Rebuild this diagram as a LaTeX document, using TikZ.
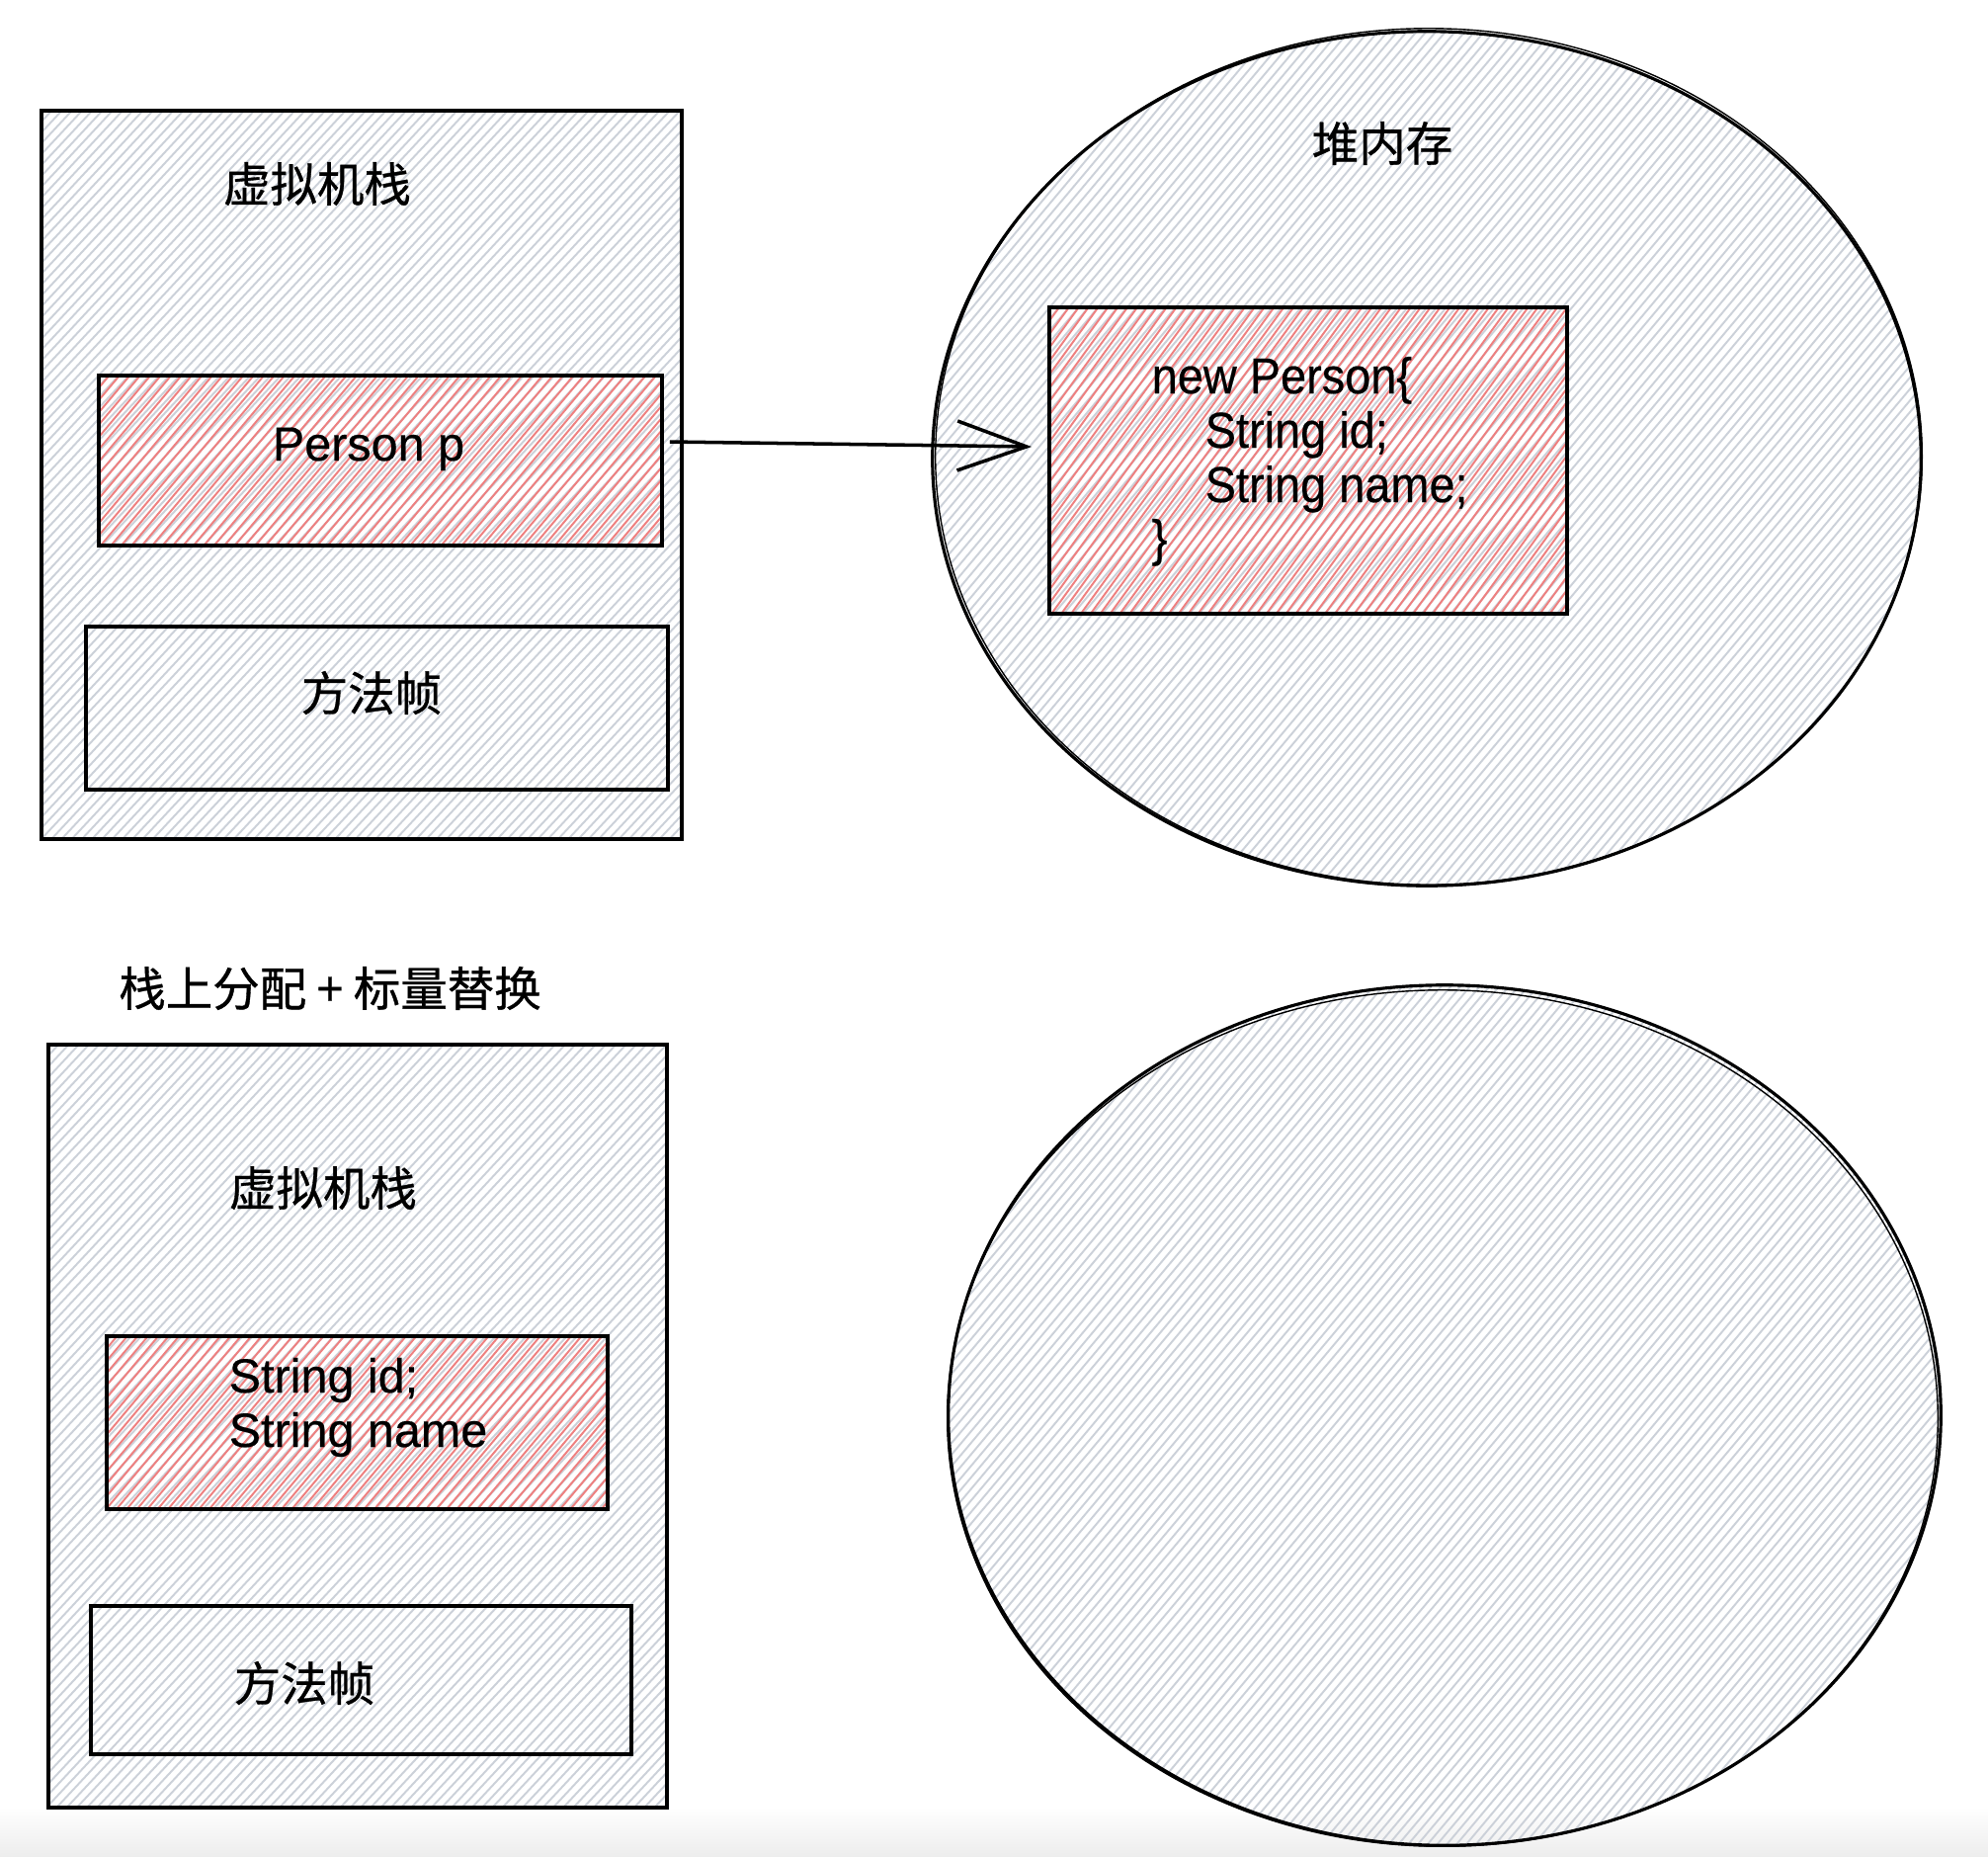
\documentclass[tikz,border=0pt]{standalone}
\usepackage{fontspec}
\setmainfont{Liberation Sans}[RawFeature={embolden=0.4}]
\newfontfamily\cjk{Noto Sans CJK SC}[RawFeature={embolden=0.7}]
\usetikzlibrary{arrows.meta,calc,shapes.geometric}
\definecolor{hgray}{RGB}{204,209,217}
\definecolor{hred}{RGB}{238,128,128}
% #1 x0, #2 y0, #3 x1, #4 y1, #5 gap, #6 style, #7 angle
\newcommand\hatchlines[7]{%
  \pgfmathsetmacro\hcA{(#1)*sin(#7)+(#2)*cos(#7)}%
  \pgfmathsetmacro\hcB{(#3)*sin(#7)+(#4)*cos(#7)}%
  \pgfmathsetmacro\hcN{\hcA+#5}%
  \foreach \c in {\hcA,\hcN,...,\hcB}{%
    \draw[#6] ({(\c-((#2)-10)*cos(#7))/sin(#7)},{(#2)-10}) -- ({(\c-((#4)+10)*cos(#7))/sin(#7)},{(#4)+10});
  }%
}
\tikzset{
  box/.style={draw=black, line width=1pt, inner sep=0pt, rectangle},
  oval/.style={draw=black, line width=0.9pt, inner sep=0pt, ellipse},
  cjklbl/.style={font=\cjk\fontsize{13.5}{16}\selectfont, inner sep=0pt},
  txt/.style={font=\fontsize{13.8}{16}\selectfont, inner sep=0pt},
  code/.style={font=\fontsize{14.5}{17}\selectfont, inner sep=0pt, anchor=base west},
  ghatch/.style={hgray, line width=0.55pt},
  rhatch/.style={hred, line width=0.55pt},
}
\begin{document}
\begin{tikzpicture}[x=0.01cm, y=-0.01cm]
\useasboundingbox (0,0) rectangle (2012,1878);
\fill[white] (0,0) rectangle (2012,1878);
\shade[top color=white, bottom color=gray!14] (0,1828) rectangle (2012,1878);

% ---------- hatching ----------
\begin{scope}\clip (42,112) rectangle (690,849); \hatchlines{42}{112}{690}{849}{7.5}{ghatch}{47}\end{scope}
\begin{scope}\clip (100,380) rectangle (670,552); \hatchlines{100}{380}{670}{552}{8}{rhatch}{50}\end{scope}
\begin{scope}\clip (1444,464) ellipse [x radius=5cm, y radius=4.32cm]; \hatchlines{944}{32}{1944}{896}{7.5}{ghatch}{50}\end{scope}
\begin{scope}\clip (1062,311) rectangle (1586,621); \hatchlines{1062}{311}{1586}{621}{8}{rhatch}{54}\end{scope}
\begin{scope}\clip (49,1057) rectangle (675,1829); \hatchlines{49}{1057}{675}{1829}{7.5}{ghatch}{47}\end{scope}
\begin{scope}\clip (108,1352) rectangle (615,1527); \hatchlines{108}{1352}{615}{1527}{8}{rhatch}{50}\end{scope}
\begin{scope}\clip (1462,1432) ellipse [x radius=5.02cm, y radius=4.35cm]; \hatchlines{960}{997}{1964}{1867}{7.5}{ghatch}{50}\end{scope}

% ---------- top: stack ----------
\node[box, minimum width=6.48cm, minimum height=7.37cm] (s1) at (366,480.5) {};
\node[cjklbl] (s1lbl) at (321,186) {虚拟机栈};
\node[box, minimum width=5.70cm, minimum height=1.72cm] (pbox) at (385,466) {};
\node[txt, anchor=base] (ptxt) at (373,466) {Person p};
\node[box, minimum width=5.89cm, minimum height=1.65cm] (f1) at (381.5,716.5) {};
\node[cjklbl] (f1lbl) at (376,701) {方法帧};

% ---------- top: heap ----------
\node[oval, minimum width=10cm, minimum height=8.64cm] (heap1) at (1444,464) {};
\draw[black, line width=0.4pt] (1446,462) ellipse [x radius=4.99cm, y radius=4.33cm];
\node[cjklbl] (heaplbl) at (1399,145) {堆内存};
\node[box, minimum width=5.24cm, minimum height=3.10cm] (hobj) at (1324,466) {};
\node[code] (c1) at (1165,398) {\scalebox{0.92}[1]{new Person\{}};
\node[code] (c2) at (1219,453) {\scalebox{0.92}[1]{String id;}};
\node[code] (c3) at (1219,508) {\scalebox{0.92}[1]{String name;}};
\node[code] (c4) at (1165,562) {\scalebox{0.92}[1]{\}}};

\draw[line width=1pt, -{Straight Barb[length=0.7cm, width=0.5cm, line width=1pt]}]
  ($(pbox.east)+(6,-19)$) -- ($(hobj.west)+(-16,-14)$);

% ---------- bottom ----------
\node[cjklbl] (title2) at (334,1000) {栈上分配 + 标量替换};
\node[box, minimum width=6.26cm, minimum height=7.72cm] (s2) at (362,1443) {};
\node[cjklbl] (s2lbl) at (327,1202) {虚拟机栈};
\node[box, minimum width=5.07cm, minimum height=1.75cm] (sbox) at (361.5,1439.5) {};
\node[txt, anchor=base west] (st1) at (231,1409) {String id;};
\node[txt, anchor=base west] (st2) at (231,1464) {String name};
\node[box, minimum width=5.47cm, minimum height=1.50cm] (f2) at (365.5,1700) {};
\node[cjklbl] (f2lbl) at (308,1703) {方法帧};

\node[oval, minimum width=10.04cm, minimum height=8.70cm] (heap2) at (1462,1432) {};
\draw[black, line width=0.4pt] (1460,1435) ellipse [x radius=5.01cm, y radius=4.33cm];
\end{tikzpicture}
\end{document}
